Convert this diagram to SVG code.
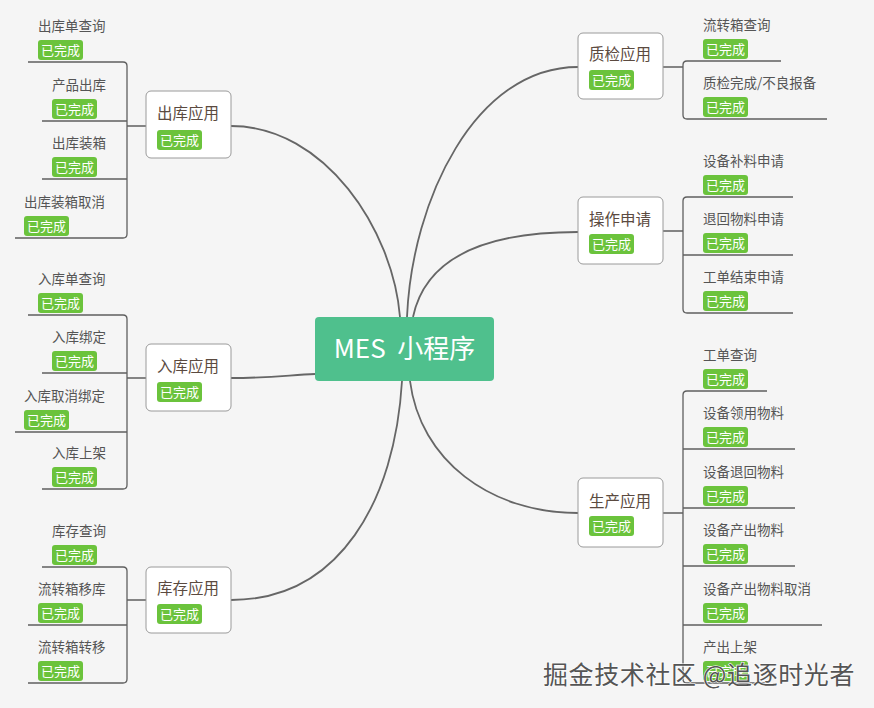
<svg xmlns="http://www.w3.org/2000/svg" width="874" height="708" viewBox="0 0 874 708">
<style>
.bg{fill:#f5f5f5}
.curve{fill:none;stroke:#666;stroke-width:1.8}
.br{fill:none;stroke:#5f5f5f;stroke-width:1.3}
.n1{fill:#fff;stroke:#9a9a9a;stroke-width:1}
.t1{font-family:"Noto Sans CJK SC","Microsoft YaHei",sans-serif;font-size:15.5px;fill:#5b4a40}
.t2{font-family:"Noto Sans CJK SC","Microsoft YaHei",sans-serif;font-size:13.5px;fill:#555}
.bd{fill:#6bc33c}
.bt{font-family:"Noto Sans CJK SC","Microsoft YaHei",sans-serif;font-size:13px;fill:#fff}
.root{fill:#4fc08d}
.rt{font-family:"Noto Sans CJK SC","Microsoft YaHei",sans-serif;font-size:26px;fill:#fff}
.wm{font-family:"Noto Sans CJK SC","Microsoft YaHei",sans-serif;font-size:25px;letter-spacing:0.6px;fill:#555;stroke:#fff;stroke-width:1.2;paint-order:stroke}
</style>
<rect class="bg" x="0" y="0" width="874" height="708"/>

<g id="connectors">
<path class="curve" d="M231,126 C325,126 393,230 400,317"/>
<path class="curve" d="M407,317 C412,200 475,67 578,67"/>
<path class="curve" d="M413,317 C425,260 480,232 578,232"/>
<path class="curve" d="M231,378 C270,378 290,375 315,374"/>
<path class="curve" d="M402,381 C395,500 340,600 231,600"/>
<path class="curve" d="M410,381 C420,460 490,513 578,513"/>
<path class="br" d="M28,62 H123 Q127,62 127,66 V234 Q127,238 123,238 H15 M42,121 H127 M42,179 H127 M127,126 H146"/>
<path class="br" d="M28,315 H123 Q127,315 127,319 V485 Q127,489 123,489 H42 M42,373 H127 M15,432 H127 M127,378 H146"/>
<path class="br" d="M42,567 H123 Q127,567 127,571 V679 Q127,683 123,683 H28 M28,625 H127 M127,600 H146"/>
<path class="br" d="M781,61 H687 Q683,61 683,65 V115 Q683,119 687,119 H827 M663,67 H683"/>
<path class="br" d="M793,197 H687 Q683,197 683,201 V309 Q683,313 687,313 H793 M683,255 H793 M663,231 H683"/>
<path class="br" d="M767,391 H687 Q683,391 683,395 V679 Q683,683 687,683 H767 M683,449 H795 M683,508 H795 M683,566 H795 M683,625 H822 M663,513 H683"/>
</g>

<g id="root">
<rect class="root" x="315" y="317" width="179" height="64" rx="4"/>
<text class="rt" x="404.5" y="358" text-anchor="middle" xml:space="preserve">MES  小程序</text>
</g>

<g id="n-chuku">
<rect class="n1" x="146" y="91" width="85" height="67" rx="5"/>
<text class="t1" x="157" y="119">出库应用</text>
<rect class="bd" x="157" y="130" width="45" height="20" rx="3"/><text class="bt" x="160" y="145">已完成</text>
</g>
<g id="n-ruku">
<rect class="n1" x="146" y="344" width="85" height="67" rx="5"/>
<text class="t1" x="157" y="372">入库应用</text>
<rect class="bd" x="157" y="382" width="45" height="20" rx="3"/><text class="bt" x="160" y="397">已完成</text>
</g>
<g id="n-kucun">
<rect class="n1" x="146" y="567" width="85" height="66" rx="5"/>
<text class="t1" x="157" y="594">库存应用</text>
<rect class="bd" x="157" y="604" width="45" height="20" rx="3"/><text class="bt" x="160" y="619">已完成</text>
</g>
<g id="n-zhijian">
<rect class="n1" x="578" y="33" width="85" height="66" rx="5"/>
<text class="t1" x="589" y="60">质检应用</text>
<rect class="bd" x="589" y="70" width="45" height="20" rx="3"/><text class="bt" x="592" y="85">已完成</text>
</g>
<g id="n-caozuo">
<rect class="n1" x="578" y="197" width="85" height="67" rx="5"/>
<text class="t1" x="589" y="225">操作申请</text>
<rect class="bd" x="589" y="234" width="45" height="20" rx="3"/><text class="bt" x="592" y="249">已完成</text>
</g>
<g id="n-shengchan">
<rect class="n1" x="578" y="478" width="85" height="69" rx="5"/>
<text class="t1" x="589" y="507">生产应用</text>
<rect class="bd" x="589" y="516" width="45" height="20" rx="3"/><text class="bt" x="592" y="531">已完成</text>
</g>

<g id="c-chukudan"><text class="t2" x="38" y="31">出库单查询</text><rect class="bd" x="38" y="40" width="45" height="20" rx="3"/><text class="bt" x="41" y="55">已完成</text></g>
<g id="c-chanpinchuku"><text class="t2" x="52" y="90">产品出库</text><rect class="bd" x="52" y="99" width="45" height="20" rx="3"/><text class="bt" x="55" y="114">已完成</text></g>
<g id="c-chukuzhuangxiang"><text class="t2" x="52" y="148">出库装箱</text><rect class="bd" x="52" y="157" width="45" height="20" rx="3"/><text class="bt" x="55" y="172">已完成</text></g>
<g id="c-chukuzhuangxiangquxiao"><text class="t2" x="24" y="207">出库装箱取消</text><rect class="bd" x="24" y="216" width="45" height="20" rx="3"/><text class="bt" x="27" y="231">已完成</text></g>

<g id="c-rukudan"><text class="t2" x="38" y="284">入库单查询</text><rect class="bd" x="38" y="293" width="45" height="20" rx="3"/><text class="bt" x="41" y="308">已完成</text></g>
<g id="c-rukubangding"><text class="t2" x="52" y="342">入库绑定</text><rect class="bd" x="52" y="351" width="45" height="20" rx="3"/><text class="bt" x="55" y="366">已完成</text></g>
<g id="c-rukuquxiaobangding"><text class="t2" x="24" y="401">入库取消绑定</text><rect class="bd" x="24" y="410" width="45" height="20" rx="3"/><text class="bt" x="27" y="425">已完成</text></g>
<g id="c-rukushangjia"><text class="t2" x="52" y="458">入库上架</text><rect class="bd" x="52" y="467" width="45" height="20" rx="3"/><text class="bt" x="55" y="482">已完成</text></g>

<g id="c-kucunchaxun"><text class="t2" x="52" y="536">库存查询</text><rect class="bd" x="52" y="545" width="45" height="20" rx="3"/><text class="bt" x="55" y="560">已完成</text></g>
<g id="c-liuzhuanxiangyiku"><text class="t2" x="38" y="594">流转箱移库</text><rect class="bd" x="38" y="603" width="45" height="20" rx="3"/><text class="bt" x="41" y="618">已完成</text></g>
<g id="c-liuzhuanxiangzhuanyi"><text class="t2" x="38" y="652">流转箱转移</text><rect class="bd" x="38" y="661" width="45" height="20" rx="3"/><text class="bt" x="41" y="676">已完成</text></g>

<g id="c-liuzhuanxiangchaxun"><text class="t2" x="703" y="30">流转箱查询</text><rect class="bd" x="703" y="39" width="45" height="20" rx="3"/><text class="bt" x="706" y="54">已完成</text></g>
<g id="c-zhijianwancheng"><text class="t2" x="703" y="88">质检完成/不良报备</text><rect class="bd" x="703" y="97" width="45" height="20" rx="3"/><text class="bt" x="706" y="112">已完成</text></g>

<g id="c-shebeibuliao"><text class="t2" x="703" y="166">设备补料申请</text><rect class="bd" x="703" y="175" width="45" height="20" rx="3"/><text class="bt" x="706" y="190">已完成</text></g>
<g id="c-tuihuiwuliao"><text class="t2" x="703" y="224">退回物料申请</text><rect class="bd" x="703" y="233" width="45" height="20" rx="3"/><text class="bt" x="706" y="248">已完成</text></g>
<g id="c-gongdanjieshu"><text class="t2" x="703" y="282">工单结束申请</text><rect class="bd" x="703" y="291" width="45" height="20" rx="3"/><text class="bt" x="706" y="306">已完成</text></g>

<g id="c-gongdanchaxun"><text class="t2" x="703" y="360">工单查询</text><rect class="bd" x="703" y="369" width="45" height="20" rx="3"/><text class="bt" x="706" y="384">已完成</text></g>
<g id="c-shebeilingyong"><text class="t2" x="703" y="418">设备领用物料</text><rect class="bd" x="703" y="427" width="45" height="20" rx="3"/><text class="bt" x="706" y="442">已完成</text></g>
<g id="c-shebeituihui"><text class="t2" x="703" y="477">设备退回物料</text><rect class="bd" x="703" y="486" width="45" height="20" rx="3"/><text class="bt" x="706" y="501">已完成</text></g>
<g id="c-shebeichanchu"><text class="t2" x="703" y="535">设备产出物料</text><rect class="bd" x="703" y="544" width="45" height="20" rx="3"/><text class="bt" x="706" y="559">已完成</text></g>
<g id="c-shebeichanchuquxiao"><text class="t2" x="703" y="594">设备产出物料取消</text><rect class="bd" x="703" y="603" width="45" height="20" rx="3"/><text class="bt" x="706" y="618">已完成</text></g>
<g id="c-chanchushangjia"><text class="t2" x="703" y="652">产出上架</text><rect class="bd" x="703" y="661" width="45" height="20" rx="3"/><text class="bt" x="706" y="676">已完成</text></g>

<text class="wm" x="543" y="684">掘金技术社区 @追逐时光者</text>
</svg>
